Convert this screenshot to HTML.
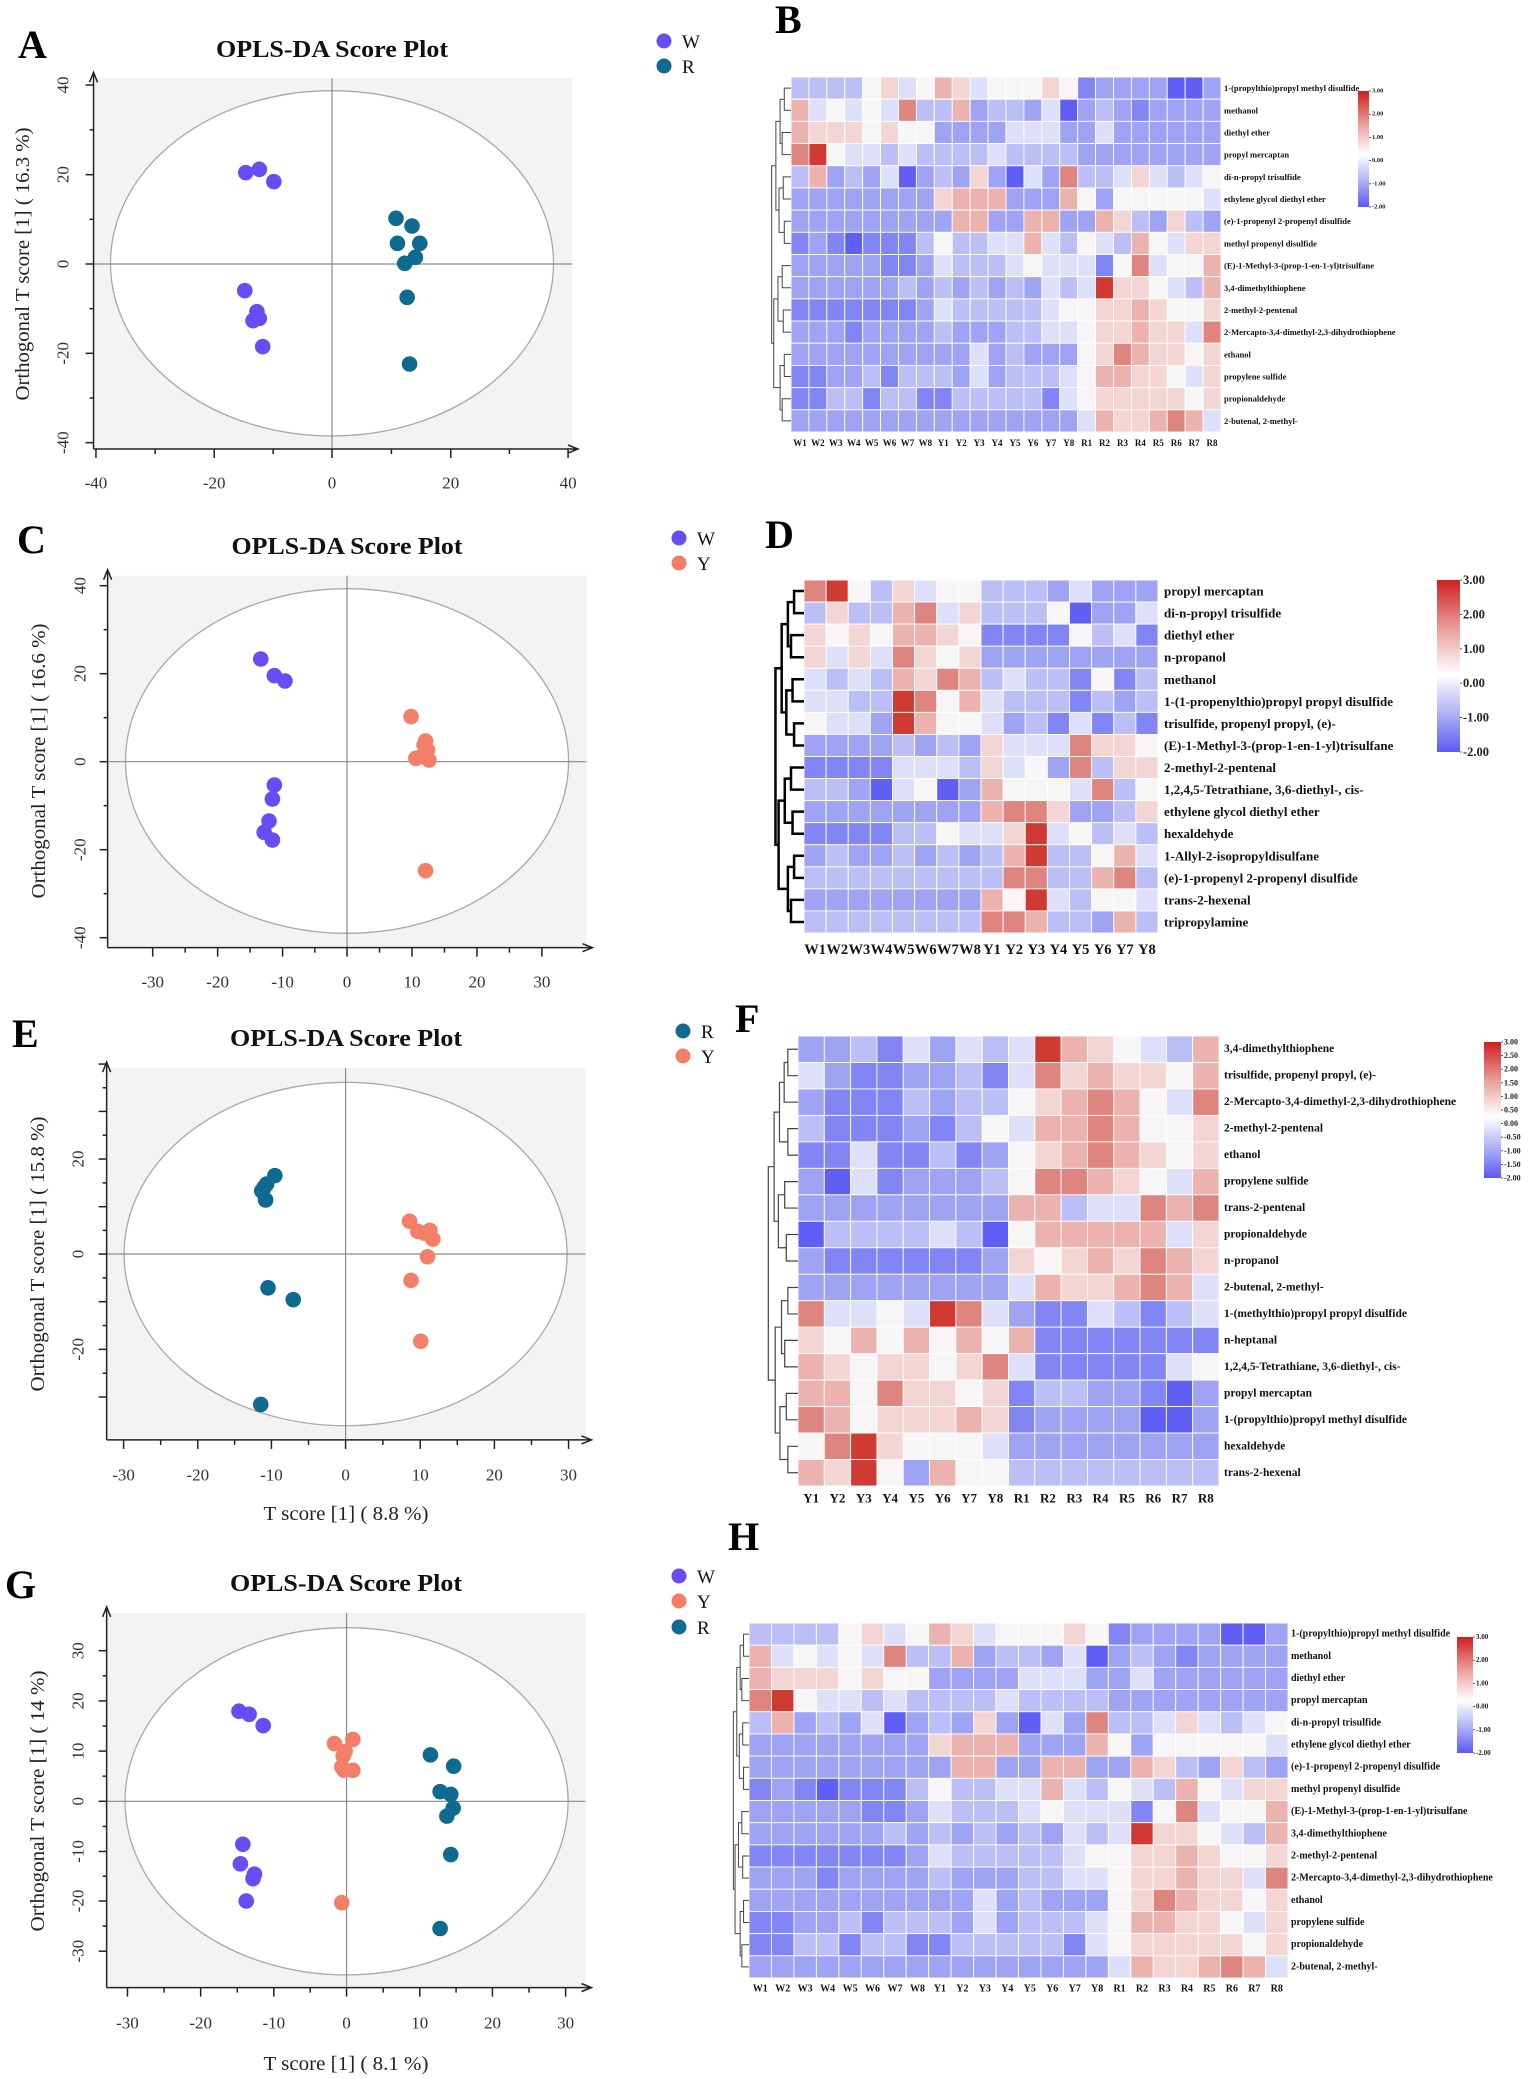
<!DOCTYPE html>
<html><head><meta charset="utf-8">
<style>
html,body{margin:0;padding:0;background:#fff;}
svg{display:block;font-family:"Liberation Serif",serif;}
.lt{font-size:40px;font-weight:bold;fill:#000;}
.ti{font-size:24px;font-weight:bold;fill:#111;}
.lg{font-size:19px;fill:#111;}
.ax{font-size:20px;fill:#222;}
</style></head>
<body>
<svg id="s" xmlns="http://www.w3.org/2000/svg" width="1535" height="2079" viewBox="0 0 1535 2079">
<defs>
<linearGradient id="cb" x1="0" y1="0" x2="0" y2="1">
<stop offset="0" stop-color="#d01e1e"/><stop offset="0.3" stop-color="#eaa6a2"/>
<stop offset="0.55" stop-color="#ffffff"/><stop offset="0.78" stop-color="#aeb0f5"/>
<stop offset="1" stop-color="#5a5af5"/></linearGradient>
</defs>
<rect width="1535" height="2079" fill="#fff"/>
<!-- panel letters -->
<text class="lt" x="18" y="58">A</text>
<text class="lt" x="775" y="33">B</text>
<text class="lt" x="17" y="553">C</text>
<text class="lt" x="765" y="548">D</text>
<text class="lt" x="12" y="1047">E</text>
<text class="lt" x="735" y="1032">F</text>
<text class="lt" x="5" y="1598">G</text>
<text class="lt" x="728" y="1550">H</text>
<!-- titles -->
<text class="ti" x="332" y="57" text-anchor="middle" textLength="232" lengthAdjust="spacingAndGlyphs">OPLS-DA Score Plot</text>
<text class="ti" x="347" y="554" text-anchor="middle" textLength="231" lengthAdjust="spacingAndGlyphs">OPLS-DA Score Plot</text>
<text class="ti" x="346" y="1046" text-anchor="middle" textLength="232" lengthAdjust="spacingAndGlyphs">OPLS-DA Score Plot</text>
<text class="ti" x="346" y="1591" text-anchor="middle" textLength="232" lengthAdjust="spacingAndGlyphs">OPLS-DA Score Plot</text>
<!-- legends -->
<circle cx="664" cy="41" r="7.5" fill="#6a4cf7"/><text class="lg" x="682" y="48">W</text>
<circle cx="664" cy="66" r="7.5" fill="#0f6a8f"/><text class="lg" x="682" y="73">R</text>
<circle cx="679" cy="538" r="7.5" fill="#6a4cf7"/><text class="lg" x="697" y="545">W</text>
<circle cx="679" cy="563" r="7.5" fill="#f47f68"/><text class="lg" x="697" y="570">Y</text>
<circle cx="683" cy="1031" r="7.5" fill="#0f6a8f"/><text class="lg" x="701" y="1038">R</text>
<circle cx="683" cy="1056" r="7.5" fill="#f47f68"/><text class="lg" x="701" y="1063">Y</text>
<circle cx="679" cy="1576" r="7.5" fill="#6a4cf7"/><text class="lg" x="697" y="1583">W</text>
<circle cx="679" cy="1601" r="7.5" fill="#f47f68"/><text class="lg" x="697" y="1608">Y</text>
<circle cx="679" cy="1627" r="7.5" fill="#0f6a8f"/><text class="lg" x="697" y="1634">R</text>
<!-- axis titles -->
<text class="ax" transform="translate(23,264) rotate(-90)" text-anchor="middle" dominant-baseline="central" textLength="273" lengthAdjust="spacingAndGlyphs">Orthogonal T score [1] ( 16.3 %)</text>
<text class="ax" transform="translate(39,761) rotate(-90)" text-anchor="middle" dominant-baseline="central" textLength="275" lengthAdjust="spacingAndGlyphs">Orthogonal T score [1] ( 16.6 %)</text>
<text class="ax" transform="translate(38,1254) rotate(-90)" text-anchor="middle" dominant-baseline="central" textLength="275" lengthAdjust="spacingAndGlyphs">Orthogonal T score [1] ( 15.8 %)</text>
<text class="ax" transform="translate(38,1801) rotate(-90)" text-anchor="middle" dominant-baseline="central" textLength="261" lengthAdjust="spacingAndGlyphs">Orthogonal T score [1] ( 14 %)</text>
<text class="ax" x="346" y="1520" text-anchor="middle" textLength="165" lengthAdjust="spacingAndGlyphs">T score [1] ( 8.8 %)</text>
<text class="ax" x="346" y="2070" text-anchor="middle" textLength="165" lengthAdjust="spacingAndGlyphs">T score [1] ( 8.1 %)</text>
</svg>
<script>
const NS='http://www.w3.org/2000/svg';
const svg=document.getElementById('s');
function el(t,a,p,txt){const e=document.createElementNS(NS,t);for(const k in a)e.setAttribute(k,a[k]);(p||svg).appendChild(e);if(txt!==undefined)e.textContent=txt;return e;}
const CW='#6a4cf7',CR='#0f6a8f',CY='#f47f68';
function plot(o){
  const g=el('g',{transform:`translate(${o.cx},${o.cy}) scale(${o.sx},${o.sy})`});
  const ns='non-scaling-stroke';
  const [b0,b1,b2,b3]=o.bg;
  el('rect',{x:b0,y:b1,width:b2-b0,height:b3-b1,fill:'#f3f3f3'},g);
  el('ellipse',{cx:o.e[0],cy:o.e[1],rx:o.e[2],ry:o.e[3],fill:'#fff',stroke:'#a8a8a8','stroke-width':1.3,'vector-effect':ns},g);
  el('line',{x1:o.zx,y1:b1,x2:o.zx,y2:b3,stroke:'#8a8a8a','stroke-width':1.2,'vector-effect':ns},g);
  el('line',{x1:b0,y1:o.zy,x2:b2,y2:o.zy,stroke:'#8a8a8a','stroke-width':1.2,'vector-effect':ns},g);
  const ax={stroke:'#222','stroke-width':1.5,'vector-effect':ns,fill:'none'};
  el('line',{x1:b0,y1:b1-5/o.sy,x2:b0,y2:b3,...ax},g);
  el('line',{x1:b0,y1:b3,x2:b2+5/o.sx,y2:b3,...ax},g);
  el('path',{d:`M${b0-4/o.sx},${b1+4/o.sy} L${b0},${b1-6/o.sy} L${b0+4/o.sx},${b1+4/o.sy}`,...ax},g);
  el('path',{d:`M${b2-4/o.sx},${b3-4/o.sy} L${b2+6/o.sx},${b3} L${b2-4/o.sx},${b3+4/o.sy}`,...ax},g);
  o.yt.forEach((t,i)=>{
    el('line',{x1:b0,y1:t[0],x2:b0-8/o.sx,y2:t[0],...ax},g);
    if(i<o.yt.length-1){const m=(t[0]+o.yt[i+1][0])/2;el('line',{x1:b0,y1:m,x2:b0-4/o.sx,y2:m,...ax},g);}
    if(t[1]!==''){const ry=o.cy+t[0]*o.sy;
      el('text',{transform:`translate(${o.ylx},${ry}) rotate(-90)`,'text-anchor':'middle','dominant-baseline':'central','font-size':17,fill:'#333'},null,t[1]);}
  });
  o.xt.forEach((t,i)=>{
    el('line',{x1:t[0],y1:b3,x2:t[0],y2:b3+9/o.sy,...ax},g);
    if(i<o.xt.length-1){const m=(t[0]+o.xt[i+1][0])/2;el('line',{x1:m,y1:b3,x2:m,y2:b3+5/o.sy,...ax},g);}
    const rx=o.cx+t[0]*o.sx;
    el('text',{x:rx,y:o.xly,'text-anchor':'middle','dominant-baseline':'central','font-size':17,fill:'#333'},null,t[1]);
  });
  o.pts.forEach(s=>s[1].forEach(p=>el('ellipse',{cx:p[0],cy:p[1],rx:7.8/o.sx,ry:7.8/o.sy,fill:s[0]},g)));
}
function mid(a){const r=[];for(let i=0;i<a.length;i++)r.push(a[i]);return r;}
plot({cx:0,cy:0,sx:0.4847,sy:1/3,bg:[193,235,1180,1347],e:[685,790,457,518],zx:685,zy:792,
 yt:[[255,'40'],[524,'20'],[792,'0'],[1060,'-20'],[1328,'-40']],xt:[[198,'-40'],[442,'-20'],[685,'0'],[930,'20'],[1172,'40']],
 ylx:63,xly:483,
 pts:[[CW,[[507,518],[535,508],[565,545],[505,872],[530,935],[535,955],[522,962],[542,1040]]],
      [CR,[[817,655],[850,678],[820,730],[866,730],[857,772],[835,790],[840,892],[845,1092]]]]});
plot({cx:0,cy:515,sx:0.4847,sy:1/3,bg:[222,182,1210,1298],e:[716,738,457,517],zx:716,zy:740,
 yt:[[212,'40'],[476,'20'],[740,'0'],[1004,'-20'],[1268,'-40']],xt:[[315,'-30'],[449,'-20'],[583,'-10'],[716,'0'],[850,'10'],[984,'20'],[1118,'30']],
 ylx:80,xly:982,
 pts:[[CW,[[538,432],[566,482],[588,498],[566,810],[562,852],[555,918],[545,952],[562,975]]],
      [CY,[[848,605],[878,678],[882,705],[858,730],[885,735],[875,690],[870,725],[878,1067]]]]});
plot({cx:0,cy:1010,sx:0.4847,sy:0.338,bg:[220,172,1208,1272],e:[713,722,457,508],zx:713,zy:722,
 yt:[[160,''],[300,''],[441,'20'],[582,''],[722,'0'],[863,''],[1004,'-20'],[1145,'']],xt:[[255,'-30'],[408,'-20'],[560,'-10'],[713,'0'],[867,'10'],[1020,'20'],[1173,'30']],
 ylx:78,xly:1475,
 pts:[[CR,[[567,490],[545,525],[550,515],[548,562],[553,822],[605,857],[538,1167],[540,535]]],
      [CY,[[845,625],[862,655],[887,652],[893,678],[882,730],[848,800],[868,980],[875,660]]]]});
plot({cx:0,cy:1540,sx:0.4847,sy:0.3438,bg:[220,212,1208,1302],e:[715,760,457,505],zx:715,zy:760,
 yt:[[322,'30'],[468,'20'],[614,'10'],[760,'0'],[906,'-10'],[1050,'-20'],[1196,'-30']],xt:[[263,'-30'],[414,'-20'],[565,'-10'],[715,'0'],[866,'10'],[1016,'20'],[1167,'30']],
 ylx:78,xly:2023,
 pts:[[CW,[[493,498],[514,507],[543,540],[501,885],[496,942],[525,972],[522,985],[508,1050]]],
      [CY,[[690,592],[728,580],[708,628],[710,670],[728,670],[705,660],[705,1055],[712,615]]],
      [CR,[[888,625],[936,658],[908,732],[930,740],[935,780],[922,803],[930,915],[908,1130]]]]});

const PAL=['#5f5ff6','#8285f4','#9fa3f4','#bcbff6','#dedff9','#f8f5f6','#f3d5d4','#ecb2ae','#df8580','#d03a33'];
function hm(o){
  const R=o.data.length,C=o.data[0].length;
  const cw=(o.x1-o.x0)/C,ch=(o.y1-o.y0)/R;
  for(let r=0;r<R;r++)for(let c=0;c<C;c++)
    el('rect',{x:o.x0+c*cw,y:o.y0+r*ch,width:cw,height:ch,fill:PAL[+o.data[r][c]],stroke:'#fff','stroke-width':0.9});
  o.rows.forEach((t,r)=>el('text',{x:o.x1+o.lgap,y:o.y0+(r+0.5)*ch,'dominant-baseline':'central','font-size':o.fs,'font-weight':'bold',fill:'#111'},null,t));
  o.cols.forEach((t,c)=>el('text',{x:o.x0+(c+0.5)*cw,y:o.cy,'text-anchor':'middle','dominant-baseline':'central','font-size':o.cfs,'font-weight':'bold',fill:'#111'},null,t));
  // colorbar
  const b=o.cb;
  el('rect',{x:b.x,y:b.y,width:b.w,height:b.h,fill:'url(#cb)'});
  b.l.forEach((t,i)=>{const y=b.y+i*b.h/(b.l.length-1);
    el('line',{x1:b.x+b.w,y1:y,x2:b.x+b.w+2,y2:y,stroke:'#333','stroke-width':0.8});
    el('text',{x:b.x+b.w+3,y:y,'dominant-baseline':'central','font-size':b.fs,'font-weight':'bold',fill:'#222'},null,t);});
  // dendrogram
  const W=o.x0-o.dx, dep=Math.ceil(Math.log2(R))+1, step=W/dep;
  const st={stroke:o.dc,'stroke-width':o.dw,fill:'none'};
  function tree(lo,hi,d){
    if(lo===hi)return {x:o.x0,y:o.y0+(lo+0.5)*ch};
    const m=Math.floor((lo+hi)/2);
    const a=tree(lo,m,d+1),c=tree(m+1,hi,d+1);
    const h=hi-lo+1; const x=o.x0-step*Math.min(dep,Math.log2(h)+0.6+((lo*7+hi*3)%3)*0.25);
    el('path',{d:`M${a.x},${a.y} H${x} V${c.y} H${c.x}`,...st});
    return {x:x,y:(a.y+c.y)/2};
  }
  tree(0,R-1,0);
}
const lab24=['W1','W2','W3','W4','W5','W6','W7','W8','Y1','Y2','Y3','Y4','Y5','Y6','Y7','Y8','R1','R2','R3','R4','R5','R6','R7','R8'];
const rowsB=['1-(propylthio)propyl methyl disulfide','methanol','diethyl ether','propyl mercaptan','di-n-propyl trisulfide','ethylene glycol diethyl ether','(e)-1-propenyl 2-propenyl disulfide','methyl propenyl disulfide','(E)-1-Methyl-3-(prop-1-en-1-yl)trisulfane','3,4-dimethylthiophene','2-methyl-2-pentenal','2-Mercapto-3,4-dimethyl-2,3-dihydrothiophene','ethanol','propylene sulfide','propionaldehyde','2-butenal, 2-methyl-'];
const dataB=['333356457645556512222002','745454833723324023212222','766656552222444224222222','895443433334333322222222',
'372324023262042833464345','222222226777222752555554','222222222772277227632632','121011135334474354375466',
'222221124333454441584557','222222323232324349665437','111111124333334556676556','222122223222334456676648',
'222222222242322256876656','112231333242333457766546','113313311333331456666656','222222222222222247667874'];
const cbl6=['3.00','2.00','1.00','0.00','-1.00','-2.00'];
hm({x0:791,x1:1221,y0:77,y1:432,data:dataB,rows:rowsB,cols:lab24,lgap:3,fs:8.5,cy:443,cfs:9,
  cb:{x:1358,y:91,w:11,h:116,l:cbl6,fs:6.5},dx:770,dc:'#444',dw:1});
hm({x0:749,x1:1288,y0:1623,y1:1978,data:dataB,rows:rowsB,cols:lab24,lgap:3,fs:10,cy:1989,cfs:10,
  cb:{x:1457,y:1637,w:16,h:116,l:cbl6,fs:7},dx:732,dc:'#444',dw:1});
hm({x0:804,x1:1158,y0:580,y1:933,
 data:['8953645533324222','3633784633350224','6565776511115341','6464865622222222','4343768734331513','4433985743331323','5442975542314131','2222323264448665','1111444364528366','3320450275554835','2222222278862236','1111335446945343','2322323237933574','3333333338833783','2222222275943554','3333333388733273'],
 rows:['propyl mercaptan','di-n-propyl trisulfide','diethyl ether','n-propanol','methanol','1-(1-propenylthio)propyl propyl disulfide','trisulfide, propenyl propyl, (e)-','(E)-1-Methyl-3-(prop-1-en-1-yl)trisulfane','2-methyl-2-pentenal','1,2,4,5-Tetrathiane, 3,6-diethyl-, cis-','ethylene glycol diethyl ether','hexaldehyde','1-Allyl-2-isopropyldisulfane','(e)-1-propenyl 2-propenyl disulfide','trans-2-hexenal','tripropylamine'],
 cols:lab24.slice(0,16),lgap:6,fs:13,cy:950,cfs:14.5,
 cb:{x:1437,y:580,w:23,h:172,l:cbl6,fs:12.5},dx:773,dc:'#000',dw:2.5});
hm({x0:798,x1:1219,y0:1036,y1:1486,
 data:['2231424349765437','4211223148676657','2111323356787548','3111213547787556','1141131256787656','2041222358876547','2222222277344878','0333343057777746','2111111265676876','2222222247667874','8445498421143134','6575757571111111','7656656841111145','7758665613322102','8756667612222002','5896555422222222','7695275533333333'],
 rows:['3,4-dimethylthiophene','trisulfide, propenyl propyl, (e)-','2-Mercapto-3,4-dimethyl-2,3-dihydrothiophene','2-methyl-2-pentenal','ethanol','propylene sulfide','trans-2-pentenal','propionaldehyde','n-propanol','2-butenal, 2-methyl-','1-(methylthio)propyl propyl disulfide','n-heptanal','1,2,4,5-Tetrathiane, 3,6-diethyl-, cis-','propyl mercaptan','1-(propylthio)propyl methyl disulfide','hexaldehyde','trans-2-hexenal'],
 cols:lab24.slice(8),lgap:5,fs:11.5,cy:1498,cfs:13,
 cb:{x:1484,y:1042,w:17,h:136,l:['3.00','2.50','2.00','1.50','1.00','0.50','0.00','-0.50','-1.00','-1.50','-2.00'],fs:8},dx:760,dc:'#444',dw:1.2});
</script>
</body></html>
